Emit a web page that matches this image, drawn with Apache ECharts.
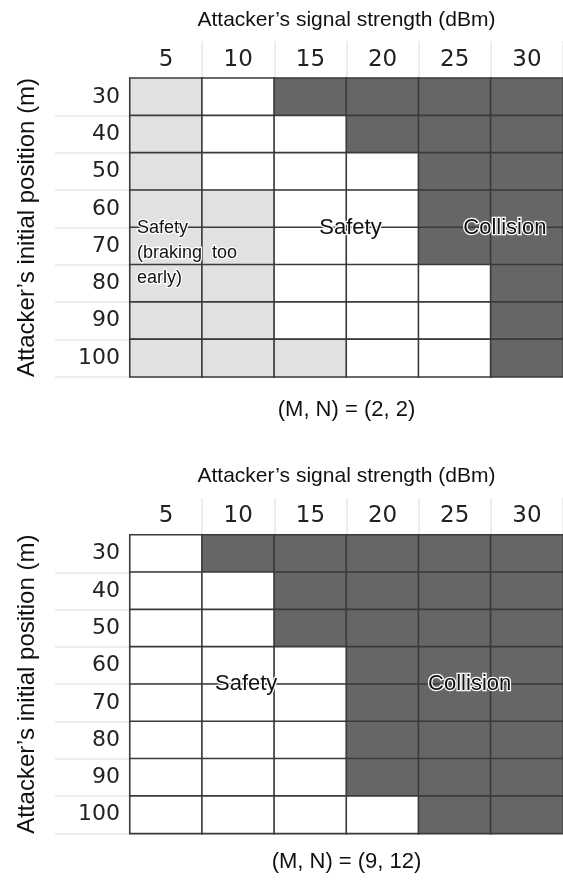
<!DOCTYPE html>
<html>
<head>
<meta charset="utf-8">
<script src="https://cdn.jsdelivr.net/npm/echarts@6/dist/echarts.min.js"></script>
<style>html,body{margin:0;padding:0;background:#fff}#c{width:563px;height:881px}</style>
</head>
<body>
<div id="c"></div>
<script>
// Categories
const signalStrength = ['5', '10', '15', '20', '25', '30'];
const initialPosition = ['30', '40', '50', '60', '70', '80', '90', '100'];
// Outcome codes: 0 = safety (braking too early), 1 = safety, 2 = collision
// rows follow initialPosition, columns follow signalStrength
const outcomeMN22 = [
  [0, 1, 2, 2, 2, 2],
  [0, 1, 1, 2, 2, 2],
  [0, 1, 1, 1, 2, 2],
  [0, 0, 1, 1, 2, 2],
  [0, 0, 1, 1, 2, 2],
  [0, 0, 1, 1, 1, 2],
  [0, 0, 1, 1, 1, 2],
  [0, 0, 0, 1, 1, 2]
];
const outcomeMN912 = [
  [1, 2, 2, 2, 2, 2],
  [1, 1, 2, 2, 2, 2],
  [1, 1, 2, 2, 2, 2],
  [1, 1, 1, 2, 2, 2],
  [1, 1, 1, 2, 2, 2],
  [1, 1, 1, 2, 2, 2],
  [1, 1, 1, 2, 2, 2],
  [1, 1, 1, 1, 2, 2]
];
const subtitles = ['(M, N) = (2, 2)', '(M, N) = (9, 12)'];
const xTitle = 'Attacker\u2019s signal strength (dBm)';
const yTitle = 'Attacker\u2019s initial position (m)';

function toData(m) {
  const d = [];
  m.forEach((row, r) => row.forEach((v, c) => d.push([c, r, v])));
  return d;
}

const chart = echarts.init(document.getElementById('c'));
const grids = [
  { left: 130, right: -1, top: 78.3, height: 298.4 },
  { left: 130, right: -1, top: 535, height: 298.4 }
];
function xAxisFor(i) {
  return {
    type: 'category', gridIndex: i, position: 'top', data: signalStrength,
    axisLine: { show: false },
    axisTick: { show: true, length: 37, interval: (idx) => idx !== 0,
      lineStyle: { color: '#e8e8e8', width: 1.5 } },
    axisLabel: { fontFamily: 'DejaVu Sans', fontSize: 23, color: '#222', margin: 7 },
    name: xTitle, nameLocation: 'middle', nameGap: 48,
    nameTextStyle: { fontFamily: 'Liberation Sans', fontSize: 21, color: '#111' }
  };
}
function yAxisFor(i) {
  return {
    type: 'category', gridIndex: i, inverse: true, data: initialPosition,
    axisLine: { show: false },
    axisTick: { show: true, length: 75, interval: (idx) => idx !== 0,
      lineStyle: { color: '#e8e8e8', width: 1.5 } },
    axisLabel: { fontFamily: 'DejaVu Sans', fontSize: 22, color: '#222', margin: 10 },
    name: yTitle, nameLocation: 'middle', nameGap: 91, nameRotate: 90,
    nameTextStyle: { fontFamily: 'Liberation Sans', fontSize: 24, color: '#111' }
  };
}

chart.setOption({
  animation: false,
  grid: grids,
  xAxis: [xAxisFor(0), xAxisFor(1)],
  yAxis: [yAxisFor(0), yAxisFor(1)],
  visualMap: {
    type: 'piecewise', show: false, seriesIndex: [0, 1], dimension: 2,
    pieces: [
      { value: 0, color: '#e1e1e1' },
      { value: 1, color: '#ffffff' },
      { value: 2, color: '#666666' }
    ]
  },
  series: [
    { type: 'heatmap', xAxisIndex: 0, yAxisIndex: 0, data: toData(outcomeMN22),
      itemStyle: { borderColor: '#3a3a3a', borderWidth: 1.6 } },
    { type: 'heatmap', xAxisIndex: 1, yAxisIndex: 1, data: toData(outcomeMN912),
      itemStyle: { borderColor: '#3a3a3a', borderWidth: 1.6 } }
  ]
});

// annotations placed at the 60/70 row boundary using the axes' own scales
function rowMid(gi) {
  const a = chart.convertToPixel({ gridIndex: gi }, [0, '60']);
  const b = chart.convertToPixel({ gridIndex: gi }, [0, '70']);
  return (a[1] + b[1]) / 2;
}
function colLeft(gi, col) {
  const a = chart.convertToPixel({ gridIndex: gi }, [col, '60']);
  const b = chart.convertToPixel({ gridIndex: gi }, [col + 1, '60']);
  return a[0] - (b[0] - a[0]) / 2;
}
const txt = (x, y, text, extra) => Object.assign({
  type: 'text', x: x, y: y,
  style: Object.assign({ text: text, fill: '#111', font: '22px "Liberation Sans"',
    align: 'center', verticalAlign: 'middle', stroke: '#fff', lineWidth: 2.5 }, extra || {}),
  z: 100
});

const g = [];
const r0 = rowMid(0);
g.push(txt(colLeft(0, 0) + 7, r0 - 12, 'Safety\n(braking  too\nearly)',
  { align: 'left', verticalAlign: 'top', font: '18px "Liberation Sans"', lineHeight: 25 }));
g.push(txt(colLeft(0, 3) + 4, r0, 'Safety'));
g.push(txt(colLeft(0, 5) + 14, r0, 'Collision'));
const r1 = rowMid(1);
g.push(txt(colLeft(1, 1) + 44, r1, 'Safety'));
g.push(txt(colLeft(1, 4) + 51, r1, 'Collision'));
// subtitles below each grid
const subY = [410, 862];
[0, 1].forEach(i => {
  const cx = (colLeft(i, 0) + colLeft(i, 5) + (colLeft(i, 5) - colLeft(i, 4))) / 2;
  g.push(txt(cx, subY[i], subtitles[i], { font: '22px "Liberation Sans"', lineWidth: 0 }));
});
chart.setOption({ graphic: g });
</script>
</body>
</html>
